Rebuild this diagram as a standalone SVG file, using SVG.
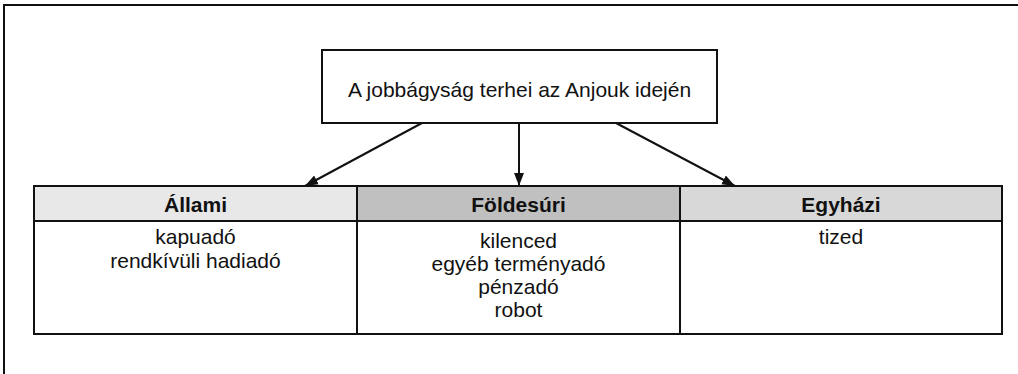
<svg xmlns="http://www.w3.org/2000/svg" width="1018" height="374" viewBox="0 0 1018 374">
<style>
.ln{stroke:#111;stroke-width:2}
.t{font-family:"Liberation Sans",Arial,sans-serif;fill:#111;text-anchor:middle}
.tt{font-size:21px}
.h{font-size:21px;font-weight:bold}
.b{font-size:21px}
</style>
<defs>
<marker id="ah" viewBox="0 0 10 10" refX="10" refY="5" markerWidth="13" markerHeight="13" markerUnits="userSpaceOnUse" orient="auto">
<path d="M0,1.2 L10,5 L0,8.8 z" fill="#111"/>
</marker>
</defs>
<rect x="0" y="0" width="1018" height="374" fill="#fff"/>
<path class="ln" fill="none" d="M4,380 L4,5 L1030,5"/>
<g id="connectors">
<line class="ln" x1="422" y1="123" x2="305" y2="186" marker-end="url(#ah)"/>
<line class="ln" x1="519" y1="123" x2="519" y2="186" marker-end="url(#ah)"/>
<line class="ln" x1="616" y1="123" x2="735" y2="186" marker-end="url(#ah)"/>
</g>
<g id="title">
<rect class="ln" x="322" y="50" width="395" height="73" fill="#fff"/>
<text class="t tt" x="519.5" y="97">A jobbágyság terhei az Anjouk idején</text>
</g>
<g id="allami">
<rect x="34" y="186" width="323" height="35" fill="#e8e8e8" class="ln"/>
<rect x="34" y="221" width="323" height="113" fill="#fff" class="ln"/>
<text class="t h" x="195.5" y="212">Állami</text>
<text class="t b" x="195.5" y="244">kapuadó</text>
<text class="t b" x="195.5" y="268">rendkívüli hadiadó</text>
</g>
<g id="foldesuri">
<rect x="357" y="186" width="323" height="35" fill="#c0c0c0" class="ln"/>
<rect x="357" y="221" width="323" height="113" fill="#fff" class="ln"/>
<text class="t h" x="518.5" y="212">Földesúri</text>
<text class="t b" x="518.5" y="248">kilenced</text>
<text class="t b" x="518.5" y="271">egyéb terményadó</text>
<text class="t b" x="518.5" y="294">pénzadó</text>
<text class="t b" x="518.5" y="317">robot</text>
</g>
<g id="egyhazi">
<rect x="680" y="186" width="322" height="35" fill="#d8d8d8" class="ln"/>
<rect x="680" y="221" width="322" height="113" fill="#fff" class="ln"/>
<text class="t h" x="841" y="212">Egyházi</text>
<text class="t b" x="841" y="244">tized</text>
</g>
</svg>
